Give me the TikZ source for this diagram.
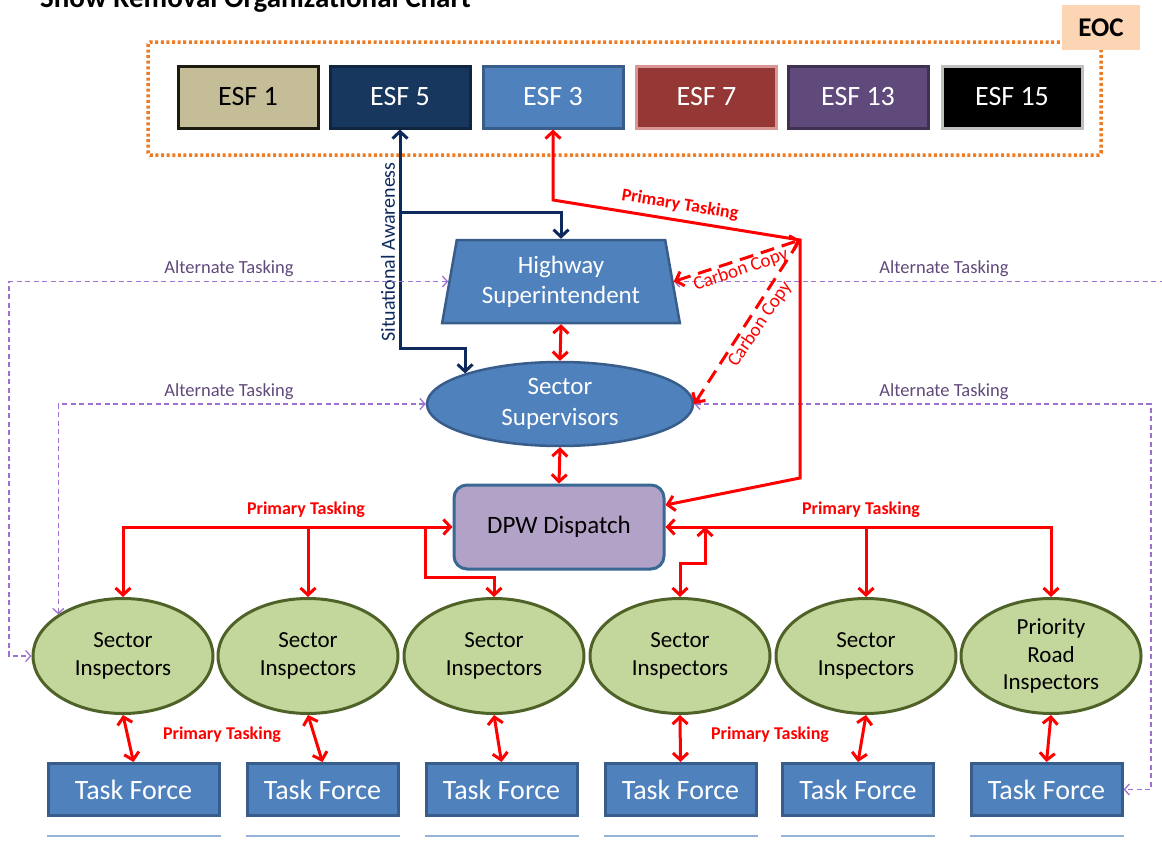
\documentclass[tikz,border=0pt]{standalone}
\usepackage{fontspec}
\setmainfont{Carlito}
\usetikzlibrary{arrows.meta,shapes.geometric,calc}

\definecolor{esfTan}{HTML}{C4BD97}
\definecolor{esfTanB}{HTML}{1D1B10}
\definecolor{esfNavy}{HTML}{17375E}
\definecolor{esfNavyB}{HTML}{10253F}
\definecolor{blueF}{HTML}{4F81BD}
\definecolor{blueB}{HTML}{385D8A}
\definecolor{esfRed}{HTML}{953735}
\definecolor{esfRedB}{HTML}{D99694}
\definecolor{esfPurp}{HTML}{604A7B}
\definecolor{esfPurpB}{HTML}{3F3151}
\definecolor{esfGrayB}{HTML}{BFBFBF}
\definecolor{greenF}{HTML}{C3D69B}
\definecolor{greenB}{HTML}{4F6228}
\definecolor{lilacF}{HTML}{B3A2C7}
\definecolor{dpwB}{HTML}{3A6894}
\definecolor{orangeD}{HTML}{EE7A22}
\definecolor{peach}{HTML}{FCD5B5}
\definecolor{altLine}{HTML}{A070D0}
\definecolor{altText}{HTML}{604A7B}
\definecolor{saLine}{HTML}{0E2A5C}
\definecolor{ulBlue}{HTML}{95B3D7}

\tikzset{
  esfbox/.style={rectangle, minimum width=140pt, minimum height=62pt, line width=3pt,
    inner sep=0pt, text=white, font=\fontsize{28}{30}\selectfont},
  tfbox/.style={rectangle, fill=blueF, draw=blueB, line width=3pt, minimum height=52pt,
    inner sep=0pt, text=white, font=\fontsize{28}{30}\selectfont},
  insp/.style={ellipse, fill=greenF, draw=greenB, line width=3pt, minimum width=180pt,
    minimum height=115pt, inner sep=0pt, align=center, font=\fontsize{23}{28.5}\selectfont},
  prim/.style={draw=red, line width=3pt, >={Straight Barb[length=7pt,width=15pt]}},
  cc/.style={prim, dash pattern=on 14pt off 8pt},
  altk/.style={draw=altLine, line width=1.3pt, dash pattern=on 5pt off 3.5pt,
    >={Straight Barb[length=5pt,width=11pt]}},
  sa/.style={draw=saLine, line width=3pt, >={Straight Barb[length=7pt,width=15pt]}},
  primlab/.style={text=red, font=\bfseries\fontsize{18}{20}\selectfont, inner sep=1pt},
  altlab/.style={text=altText, font=\fontsize{18.5}{20}\selectfont, inner sep=1pt},
  cclab/.style={text=red, font=\fontsize{19}{20}\selectfont, inner sep=1pt},
  underbar/.style={draw=ulBlue, line width=2.5pt}
}

\begin{document}
\begin{tikzpicture}[x=1pt, y=-1pt]
\fill[white] (0,0) rectangle (1162,862);
\useasboundingbox (0,0) rectangle (1162,862);

% title, partly above the page edge
\node[anchor=base west, font=\bfseries\fontsize{29}{30}\selectfont, inner sep=0pt] (title) at (40,8)
  {Snow Removal Organizational Chart};

% EOC frame and tag
\node[draw=orangeD, line width=3.5pt, dash pattern=on 3pt off 2.6pt, rounded corners=2pt,
  minimum width=953pt, minimum height=113pt] (eoc) at (624.5,98.5) {};
\node[fill=peach, minimum width=78pt, minimum height=45pt,
  font=\bfseries\fontsize{27}{30}\selectfont] (eoclab) at (1101,27.5) {EOC};

% emergency support functions
\node[esfbox, fill=esfTan, draw=esfTanB, text=black] (esf1) at (248,97) {ESF 1};
\node[esfbox, fill=esfNavy, draw=esfNavyB] (esf5) at (400,97) {ESF 5};
\node[esfbox, fill=blueF, draw=blueB] (esf3) at (553,97) {ESF 3};
\node[esfbox, fill=esfRed, draw=esfRedB] (esf7) at (706.5,97) {ESF 7};
\node[esfbox, fill=esfPurp, draw=esfPurpB] (esf13) at (858,97) {ESF 13};
\node[esfbox, fill=black, draw=esfGrayB] (esf15) at (1012,97) {ESF 15};

% command chain
\node[trapezium, trapezium angle=77.8, trapezium stretches=true, minimum width=238pt,
  minimum height=83pt, fill=blueF, draw=blueB, line width=2.5pt, text=white, align=center,
  inner sep=0pt, font=\fontsize{25}{30}\selectfont] (hs) at (561,281.5) {Highway\\Superintendent};
\node[ellipse, fill=blueF, draw=blueB, line width=2.5pt, minimum width=266pt, minimum height=84pt,
  inner sep=0pt, text=white, align=center, font=\fontsize{25}{31}\selectfont] (ss) at (560,404)
  {Sector\\Supervisors};
\node[rectangle, rounded corners=13pt, fill=lilacF, draw=dpwB, line width=3pt, minimum width=210pt,
  minimum height=84pt, font=\fontsize{25}{30}\selectfont] (dpw) at (559,527) {DPW Dispatch};

% inspectors
\node[insp] (e1) at (123,656) {Sector\\Inspectors};
\node[insp] (e2) at (308,656) {Sector\\Inspectors};
\node[insp] (e3) at (494,656) {Sector\\Inspectors};
\node[insp] (e4) at (680,656) {Sector\\Inspectors};
\node[insp] (e5) at (866,656) {Sector\\Inspectors};
\node[insp, font=\fontsize{23}{27.5}\selectfont] (e6) at (1051,656) {Priority\\Road\\Inspectors};

% task forces
\node[tfbox, minimum width=171pt] (tf1) at (133.5,789.5) {Task Force};
\node[tfbox, minimum width=151pt] (tf2) at (322.5,789.5) {Task Force};
\node[tfbox, minimum width=151pt] (tf3) at (501.5,789.5) {Task Force};
\node[tfbox, minimum width=151pt] (tf4) at (680.5,789.5) {Task Force};
\node[tfbox, minimum width=151pt] (tf5) at (858,789.5) {Task Force};
\node[tfbox, minimum width=151pt] (tf6) at (1046.5,789.5) {Task Force};
\foreach \i in {1,...,6}
  \draw[underbar] ([yshift=-19pt]tf\i.south west) -- ([yshift=-19pt]tf\i.south east);

% situational awareness
\coordinate (saBranch) at (400,212);
\draw[sa,<->] (esf5.south) -- ++(0,219) -| (ss.north west);
\draw[sa,->] (saBranch) -| (hs.north);
\node[rotate=90, text=saLine, font=\fontsize{20}{22}\selectfont, inner sep=0pt] (salab) at (388,252)
  {Situational Awareness};

% alternate tasking
\coordinate (altL1) at (9,282);
\coordinate (altR1) at (1166,282);
\coordinate (altR2) at (1151,404);
\draw[altk,<->] (hs.west) -- (hs.west -| altL1) |- (e1.west);
\draw[altk,<->] (ss.west) -| (e1.north west);
\draw[altk,<-] (hs.east) -- (hs.east -| altR1);
\draw[altk,<->] (ss.east) -- (ss.east -| altR2) |- (tf6.east);
\node[altlab] (al1) at (229,269) {Alternate Tasking};
\node[altlab] (al2) at (229,392) {Alternate Tasking};
\node[altlab] (al3) at (944,269) {Alternate Tasking};
\node[altlab] (al4) at (944,392) {Alternate Tasking};

% primary tasking from ESF 3 to dispatch
\coordinate (ptA) at (553,200);
\coordinate (ptB) at (800,240);
\coordinate (ptC) at (800,478);
\draw[prim,<->] (esf3.south) -- (ptA) -- (ptB) -- (ptC) -- ([yshift=22pt]dpw.east);
\node[primlab, rotate=-9.2] (pl0) at (680,205) {Primary Tasking};

% carbon copies
\draw[cc,<->] (hs.east) -- (ptB);
\draw[cc,<-] (ss.east) -- (ptB);
\node[cclab, rotate=19] (cl1) at (741,270) {Carbon Copy};
\node[cclab, rotate=56] (cl2) at (760,324) {Carbon Copy};

% chain of command
\draw[prim,<->] (hs.south) -- (ss.north);
\draw[prim,<->] (ss.south) -- (dpw.north);

% dispatch to inspectors, left side
\coordinate (lbr) at (425,577);
\draw[prim,<->] (e1.north) |- (dpw.west);
\draw[prim,->] (e2.north |- dpw.west) -- (e2.north);
\draw[prim,->] (lbr |- dpw.west) -- (lbr) -| (e3.north);
\node[primlab] (pl1) at (306,510) {Primary Tasking};

% dispatch to inspectors, right side
\coordinate (rbr) at (705,563);
\draw[prim,<->] (dpw.east) -| (e6.north);
\draw[prim,->] (e5.north |- dpw.east) -- (e5.north);
\draw[prim,<->] (e4.north) |- (rbr) -- (rbr |- dpw.east);
\node[primlab] (pl2) at (861,510) {Primary Tasking};

% inspectors to task forces
\foreach \i in {1,...,6}
  \draw[prim,<->] (e\i.south) -- (tf\i.north);
\node[primlab] (pl3) at (222,735) {Primary Tasking};
\node[primlab] (pl4) at (770,735) {Primary Tasking};
\end{tikzpicture}
\end{document}
